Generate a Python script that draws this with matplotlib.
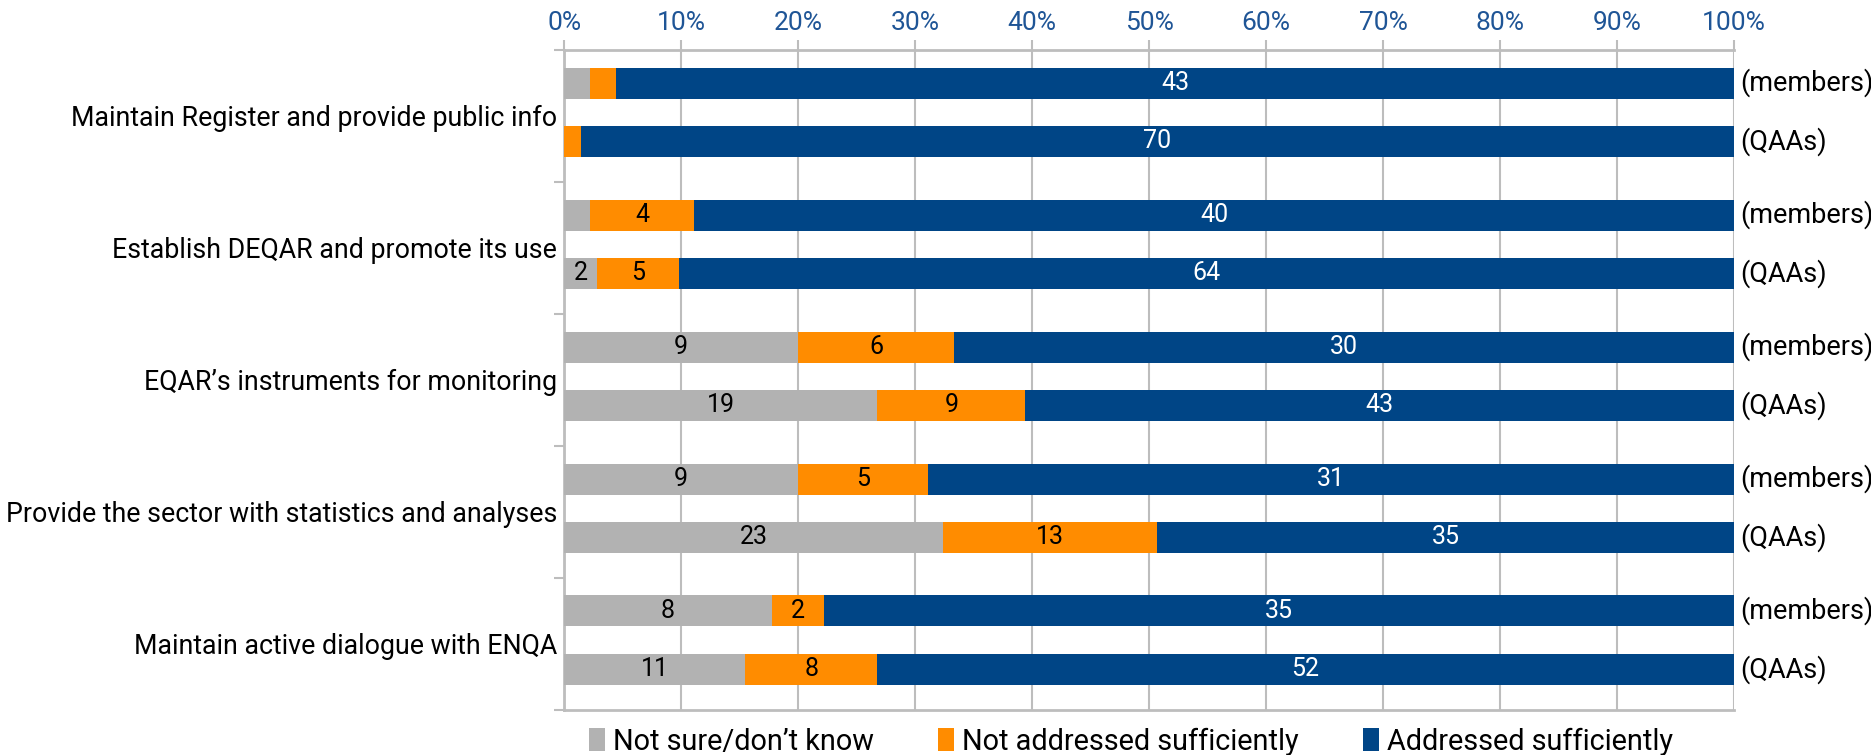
import matplotlib
matplotlib.use("Agg")
import matplotlib.pyplot as plt
import numpy as np
from matplotlib.patches import Patch

plt.rcParams['font.family'] = ['Roboto', 'DejaVu Sans']

categories = ["Maintain Register and provide public info",
              "Establish DEQAR and promote its use",
              "EQAR\u2019s instruments for monitoring",
              "Provide the sector with statistics and analyses",
              "Maintain active dialogue with ENQA"]
series_names = ["Not sure/don\u2019t know", "Not addressed sufficiently", "Addressed sufficiently"]
group_names = ["(members)", "(QAAs)"]

members_not_sure = [1, 1, 9, 9, 8]
members_not_addr = [1, 4, 6, 5, 2]
members_addr = [43, 40, 30, 31, 35]
qaa_not_sure = [0, 2, 19, 23, 11]
qaa_not_addr = [1, 5, 9, 13, 8]
qaa_addr = [70, 64, 43, 35, 52]

xticks = [0, 10, 20, 30, 40, 50, 60, 70, 80, 90, 100]
xticklabels = [f"{v}%" for v in xticks]

colors = ["#B2B2B2", "#FF8C00", "#004586"]
text_colors = ["black", "black", "white"]
grid_color = "#BDBDBD"
tick_blue = "#1F5596"

fig = plt.figure(figsize=(18.71, 7.55), dpi=100)
ax = fig.add_axes([0.3015, 0.060, 0.9268 - 0.3015, 0.934 - 0.060])

groups = [
    (np.array([members_not_sure, members_not_addr, members_addr], dtype=float), 0.252),
    (np.array([qaa_not_sure, qaa_not_addr, qaa_addr], dtype=float), 0.694),
]
bar_h = 0.235
ycenters = np.arange(len(categories))

for gi, (vals, off) in enumerate(groups):
    totals = vals.sum(axis=0)
    pct = vals / totals * 100
    left = np.zeros(len(categories))
    y = ycenters + off
    for si in range(3):
        ax.barh(y, pct[si], left=left, height=bar_h, color=colors[si],
                edgecolor='none', zorder=3, label=series_names[si] if gi == 0 else None)
        for ci in range(len(categories)):
            if vals[si, ci] >= 2:
                ax.text(left[ci] + pct[si, ci] / 2, y[ci], f"{int(vals[si, ci])}",
                        ha='center', va='center', color=text_colors[si],
                        fontsize=18, zorder=4)
        left = left + pct[si]
    for ci in range(len(categories)):
        ax.text(100.5, y[ci], group_names[gi], ha='left', va='center',
                fontsize=19.5, color='black', clip_on=False)

ax.set_xlim(0, 100)
ax.set_ylim(len(categories), 0)
ax.xaxis.tick_top()
ax.set_xticks(xticks)
ax.set_xticklabels(xticklabels, color=tick_blue, fontsize=19)
ax.tick_params(axis='x', which='major', length=7, width=1.5, color=grid_color, pad=4,
               top=True, bottom=False)
ax.set_yticks(np.arange(len(categories) + 1))
ax.set_yticklabels([])
ax.set_yticks(ycenters + 0.5, minor=True)
ax.set_yticklabels(categories, minor=True, fontsize=19.3)
ax.tick_params(axis='y', which='major', length=7, width=1.5, color=grid_color)
ax.tick_params(axis='y', which='minor', length=0, pad=5)

ax.grid(axis='x', color=grid_color, linewidth=1.5, zorder=0)
for s in ['top', 'left', 'bottom']:
    ax.spines[s].set_color(grid_color)
    ax.spines[s].set_linewidth(2)
ax.spines['right'].set_visible(False)

handles = [Patch(facecolor=c, edgecolor='none') for c in colors]
fig.legend(handles, series_names, loc='center', bbox_to_anchor=(0.6045, 0.018),
           ncol=3, frameon=False, fontsize=20.8, handlelength=0.55, handleheight=0.85,
           handletextpad=0.3, columnspacing=2.2, borderpad=0.1)

fig.savefig("out.png", dpi=100)
